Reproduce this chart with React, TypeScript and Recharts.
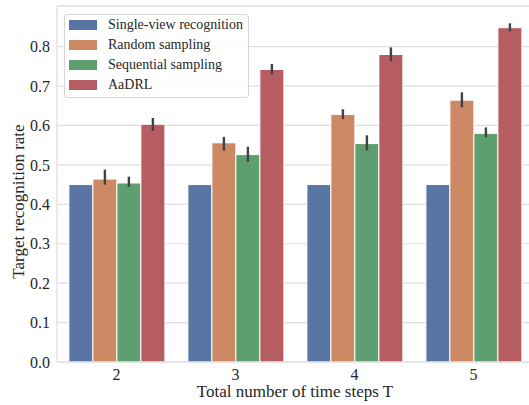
import React from "react";
import {
  BarChart,
  Bar,
  XAxis,
  YAxis,
  CartesianGrid,
  ErrorBar,
  ReferenceLine,
} from "recharts";

const categories = ["2", "3", "4", "5"];

const singleView = [0.45, 0.45, 0.45, 0.45];
const randomSampling = [0.464, 0.556, 0.628, 0.664];
const randomLow = [0.45, 0.536, 0.616, 0.646];
const randomHigh = [0.488, 0.571, 0.641, 0.684];
const sequentialSampling = [0.454, 0.526, 0.554, 0.58];
const sequentialLow = [0.444, 0.508, 0.537, 0.57];
const sequentialHigh = [0.47, 0.546, 0.575, 0.595];
const aadrl = [0.603, 0.742, 0.78, 0.848];
const aadrlLow = [0.586, 0.73, 0.763, 0.839];
const aadrlHigh = [0.619, 0.756, 0.798, 0.859];

const yTicks = [0, 0.1, 0.2, 0.3, 0.4, 0.5, 0.6, 0.7, 0.8];
const Y_MAX = 0.903;

const SERIES = [
  { key: "single", name: "Single-view recognition", color: "#5975a4" },
  { key: "random", name: "Random sampling", color: "#cc8963" },
  { key: "sequential", name: "Sequential sampling", color: "#5f9e6e" },
  { key: "aadrl", name: "AaDRL", color: "#b55d60" },
];

const FONT = "'Liberation Serif', 'Times New Roman', serif";
const GRID = "#dedede";
const TEXT = "#262626";

const data = categories.map((c, i) => ({
  t: c,
  single: singleView[i],
  random: randomSampling[i],
  randomErr: [randomSampling[i] - randomLow[i], randomHigh[i] - randomSampling[i]],
  sequential: sequentialSampling[i],
  sequentialErr: [
    sequentialSampling[i] - sequentialLow[i],
    sequentialHigh[i] - sequentialSampling[i],
  ],
  aadrl: aadrl[i],
  aadrlErr: [aadrl[i] - aadrlLow[i], aadrlHigh[i] - aadrl[i]],
}));

const errKey: Record<string, string | null> = {
  single: null,
  random: "randomErr",
  sequential: "sequentialErr",
  aadrl: "aadrlErr",
};

// y label sits a bit below the plot centre in the original
const YLabel = () => (
  <text
    transform="translate(23.5, 201.5) rotate(-90)"
    textAnchor="middle"
    fill={TEXT}
    fontSize={17}
    fontFamily={FONT}
  >
    Target recognition rate
  </text>
);

export default function App() {
  return (
    <div
      style={{
        position: "absolute",
        left: 0,
        top: 0,
        width: 529,
        height: 405,
        overflow: "hidden",
        background: "#fff",
        fontFamily: FONT,
      }}
    >
      <BarChart
        width={540}
        height={405}
        data={data}
        margin={{ top: 6, right: 7, left: 0, bottom: 0 }}
        barCategoryGap="10%"
        barGap={0}
      >
        <CartesianGrid vertical={false} stroke={GRID} strokeWidth={1.2} />
        <ReferenceLine y={Y_MAX} stroke={GRID} strokeWidth={1.2} />
        <XAxis
          dataKey="t"
          height={43}
          axisLine={{ stroke: GRID, strokeWidth: 1.2 }}
          tickLine={false}
          tickSize={0}
          tickMargin={7}
          tick={{ fill: TEXT, fontSize: 16, fontFamily: FONT }}
          label={{
            value: "Total number of time steps T",
            position: "insideBottom",
            offset: 8,
            fill: TEXT,
            fontSize: 17,
            fontFamily: FONT,
          }}
        />
        <YAxis
          width={57}
          domain={[0, Y_MAX]}
          ticks={yTicks}
          allowDataOverflow
          axisLine={{ stroke: GRID, strokeWidth: 1.2 }}
          tickLine={false}
          tickSize={0}
          tickMargin={7}
          tickFormatter={(v: number) => v.toFixed(1)}
          tick={{ fill: TEXT, fontSize: 16, fontFamily: FONT }}
          label={<YLabel />}
        />
        {SERIES.map((s) => (
          <Bar
            key={s.key}
            dataKey={s.key}
            name={s.name}
            fill={s.color}
            stroke="#ffffff"
            strokeWidth={1}
            isAnimationActive={false}
          >
            {errKey[s.key] && (
              <ErrorBar
                dataKey={errKey[s.key] as string}
                width={0}
                stroke="#424242"
                strokeWidth={2.4}
                direction="y"
              />
            )}
          </Bar>
        ))}
      </BarChart>

      <div
        style={{
          position: "absolute",
          left: 64,
          top: 14,
          width: 185,
          height: 84,
          boxSizing: "border-box",
          border: "1px solid #d6d6d6",
          borderRadius: 3,
          background: "rgba(255,255,255,0.85)",
        }}
      >
        {SERIES.map((s) => (
          <div
            key={s.key}
            style={{
              display: "flex",
              alignItems: "center",
              height: 20,
              fontSize: 14,
              color: TEXT,
            }}
          >
            <span
              style={{
                display: "inline-block",
                marginLeft: 4,
                width: 28,
                height: 9.5,
                background: s.color,
              }}
            />
            <span style={{ marginLeft: 11, whiteSpace: "nowrap" }}>{s.name}</span>
          </div>
        ))}
      </div>
    </div>
  );
}
